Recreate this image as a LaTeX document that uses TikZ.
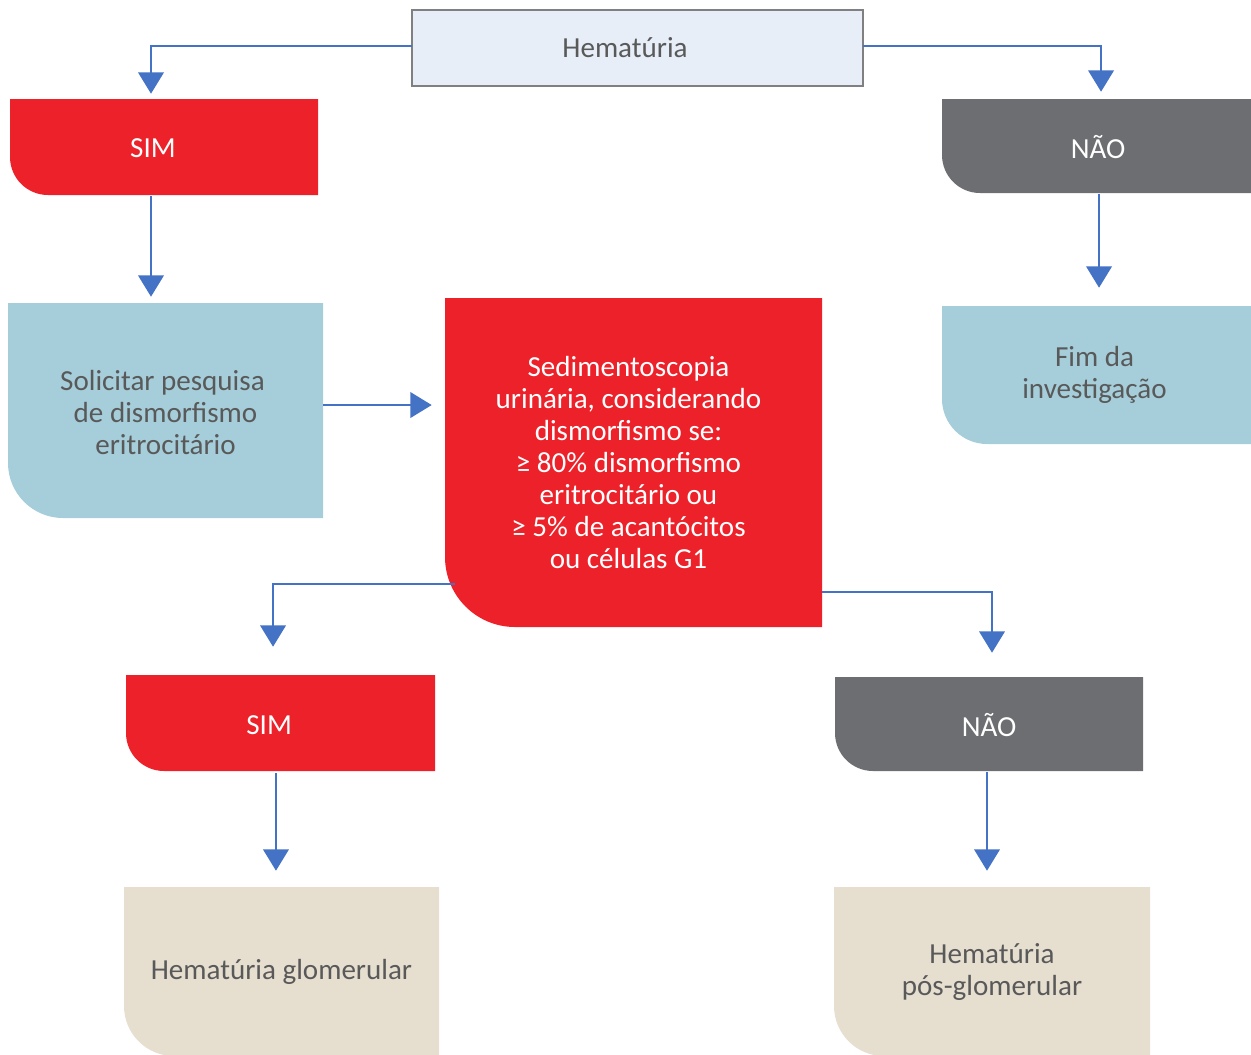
\documentclass[tikz,border=0pt]{standalone}
\usepackage{fontspec}
\setmainfont{Carlito}
\usetikzlibrary{arrows.meta,calc}
\definecolor{cred}{HTML}{ED2129}
\definecolor{cgray}{HTML}{6D6E71}
\definecolor{cblue}{HTML}{A5CEDA}
\definecolor{cbeige}{HTML}{E6DFD0}
\definecolor{chem}{HTML}{E7EEF8}
\definecolor{carrow}{HTML}{4472C4}
\definecolor{ctext}{HTML}{595959}
\newcommand\rbox[6]{%
  \fill[#1] (#2,-#3) -- (#4,-#3) -- (#4,-#5) -- ({#2+#6},-#5)
    arc[start angle=270,end angle=180,radius=#6*0.75pt] -- cycle;}
\begin{document}
\begin{tikzpicture}[x=0.75pt,y=0.75pt,
  lbl/.style={align=center,inner sep=0pt,font=\fontsize{21.8}{24}\selectfont},
  wlbl/.style={lbl,text=white},
  dlbl/.style={lbl,text=ctext},
  conn/.style={draw=carrow,line width=2pt,-{Triangle[width=19pt,length=16pt]}}]
\useasboundingbox (0,0) rectangle (1251,-1054);
\begin{scope}
\clip (0,0) rectangle (1251,-1054);
% shapes
\filldraw[fill=chem,draw=black!50,line width=1.1pt] (412,-10) rectangle (863,-86);
\rbox{cred}{10}{99}{318}{195}{38}
\rbox{cgray}{942}{99}{1251}{193}{38}
\rbox{cblue}{8}{303}{323}{518}{55}
\rbox{cred}{445}{298}{822}{627}{70}
\rbox{cblue}{942}{306}{1251}{444}{45}
\rbox{cred}{126}{675}{435}{771}{38}
\rbox{cgray}{835}{677}{1143}{771}{38}
\rbox{cbeige}{124}{887}{439}{1056}{50}
\rbox{cbeige}{834}{887}{1150}{1056}{50}
\end{scope}
% nodes (geometry matches shapes)
\node[dlbl,minimum width=451*0.75pt,minimum height=76*0.75pt] (hem) at (637.5,-48) {\hspace*{-18.75pt}Hematúria};
\node[wlbl,minimum width=308*0.75pt,minimum height=96*0.75pt] (sim1) at (164,-148) {\hspace*{-16.5pt}SIM};
\node[wlbl,minimum width=309*0.75pt,minimum height=94*0.75pt] (nao1) at (1096.5,-147) {\hspace*{2.5pt}NÃO};
\node[dlbl,minimum width=315*0.75pt,minimum height=215*0.75pt] (sol) at (165.5,-412.5) {\hspace*{-4.5pt}Solicitar pesquisa\\de dismorfismo\\eritrocitário};
\node[dlbl,minimum width=377*0.75pt,minimum height=329*0.75pt, text=white] (sed) at (633.5,-462.5) {\hspace*{-7.5pt}Sedimentoscopia\\\hspace*{-7.5pt}urinária, considerando\\\hspace*{-7.5pt}dismorfismo se:\\\hspace*{-7.5pt}≥ 80\% dismorfismo\\\hspace*{-7.5pt}eritrocitário ou\\\hspace*{-7.5pt}≥ 5\% de acantócitos\\\hspace*{-7.5pt}ou células G1};
\node[dlbl,minimum width=309*0.75pt,minimum height=138*0.75pt] (fim) at (1096.5,-375) {\hspace*{-3pt}Fim da\\\hspace*{-3pt}investigação};
\node[wlbl,minimum width=309*0.75pt,minimum height=96*0.75pt] (sim2) at (280.5,-725) {\hspace*{-17pt}SIM};
\node[wlbl,minimum width=308*0.75pt,minimum height=94*0.75pt] (nao2) at (989,-725) {NÃO};
\node[dlbl,minimum width=315*0.75pt,minimum height=168*0.75pt] (hg) at (281.5,-972) {Hematúria glomerular};
\node[dlbl,minimum width=316*0.75pt,minimum height=168*0.75pt] (hpg) at (992,-972) {Hematúria\\pós-glomerular};
% connectors
\draw[conn,shorten >=4.5pt] ([yshift=1.5pt]hem.west) -| ([xshift=-9.75pt]sim1.north);
\draw[conn,shorten >=6pt] ([yshift=1.5pt]hem.east) -| ([xshift=3.4pt]nao1.north);
\draw[conn,shorten >=6pt] ([xshift=-9.75pt]sim1.south) -- ([xshift=-9.75pt]sim1.south |- sol.north);
\draw[conn,shorten >=13.5pt] ([xshift=1.9pt]nao1.south) -- ([xshift=1.9pt]nao1.south |- fim.north);
\draw[conn,shorten >=9.75pt] ([yshift=5.6pt]sol.east) -- ([yshift=5.6pt]sol.east -| sed.west);
\draw[conn,shorten >=22.5pt] ([xshift=7.5pt,yshift=-91.1pt]sed.west) -| ([xshift=-5.6pt]sim2.north);
\draw[conn,shorten >=18.75pt] ([yshift=-97.1pt]sed.east) -| ([xshift=2.25pt]nao2.north);
\draw[conn,shorten >=12.75pt] ([xshift=-3.4pt]sim2.south) -- ([xshift=-3.4pt]sim2.south |- hg.north);
\draw[conn,shorten >=12.75pt] ([xshift=-1.5pt]nao2.south) -- ([xshift=-1.5pt]nao2.south |- hpg.north);
\end{tikzpicture}
\end{document}
